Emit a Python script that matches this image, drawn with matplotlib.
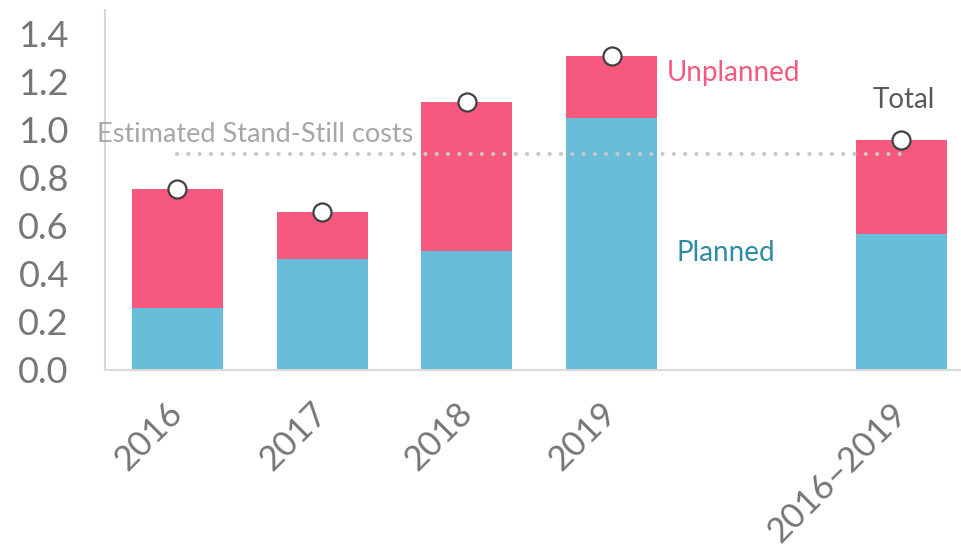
import matplotlib.pyplot as plt

# Daten
positionen = [0, 1, 2, 3, 5]
labels = ["2016", "2017", "2018", "2019", "2016–2019"]
geplant = [0.256, 0.46, 0.494, 1.048, 0.565]
gesamt = [0.751, 0.656, 1.116, 1.306, 0.956]
ungeplant = [g - p for g, p in zip(gesamt, geplant)]
stillstand = 0.9
y_ticks = [0, 0.2, 0.4, 0.6, 0.8, 1.0, 1.2, 1.4]

PINK = "#F7597E"
BLAU = "#68BED9"
GRAU = "#767676"

plt.rcParams["font.family"] = ["Lato", "DejaVu Sans"]

fig = plt.figure(figsize=(9.62, 5.53), dpi=100)
ax = fig.add_axes([0.1091, 0.3318, 0.8909, 0.6502])

breite = 0.63
ax.bar(positionen, geplant, width=breite, color=BLAU, zorder=2)
ax.bar(positionen, ungeplant, width=breite, bottom=geplant, color=PINK, zorder=2)

# Stillstandskosten (gepunktete Linie)
ax.plot([positionen[0], positionen[-1]], [stillstand, stillstand], color="#c8c8c8",
        lw=3, linestyle=(0, (0.01, 2.7)), dash_capstyle="round", zorder=3)

# Kreise fuer Gesamtwerte
ax.plot(positionen, gesamt, "o", ms=13, mfc="white", mec="#404040", mew=1.6,
        zorder=4, clip_on=False)

ax.set_xlim(-0.5, 5.42)
ax.set_ylim(0, 1.5)
ax.set_yticks(y_ticks)
ax.set_yticklabels([f"{v:.1f}" for v in y_ticks])
ax.set_xticks(positionen)
ax.set_xticklabels(labels, rotation=45, ha="right", va="center", rotation_mode="anchor")
ax.tick_params(axis="both", length=0, labelcolor=GRAU)
ax.tick_params(axis="y", pad=26, labelsize=26)
ax.tick_params(axis="x", pad=28, labelsize=25)

for s in ["top", "right"]:
    ax.spines[s].set_visible(False)
for s in ["left", "bottom"]:
    ax.spines[s].set_color("#d9d9d9")
    ax.spines[s].set_linewidth(1.5)

# Beschriftungen
ax.text(3.383, 1.235, "Unplanned", color=PINK, fontsize=20, va="center", ha="left")
ax.text(3.445, 0.485, "Planned", color="#2E8BA6", fontsize=20, va="center", ha="left")
ax.text(5.02, 1.123, "Total", color="#595959", fontsize=20, va="center", ha="center")
ax.text(-0.556, 0.981, "Estimated Stand-Still costs", color="#a6a6a6", fontsize=19.5,
        va="center", ha="left", zorder=5)

plt.savefig("out.png", dpi=100)
plt.close()
